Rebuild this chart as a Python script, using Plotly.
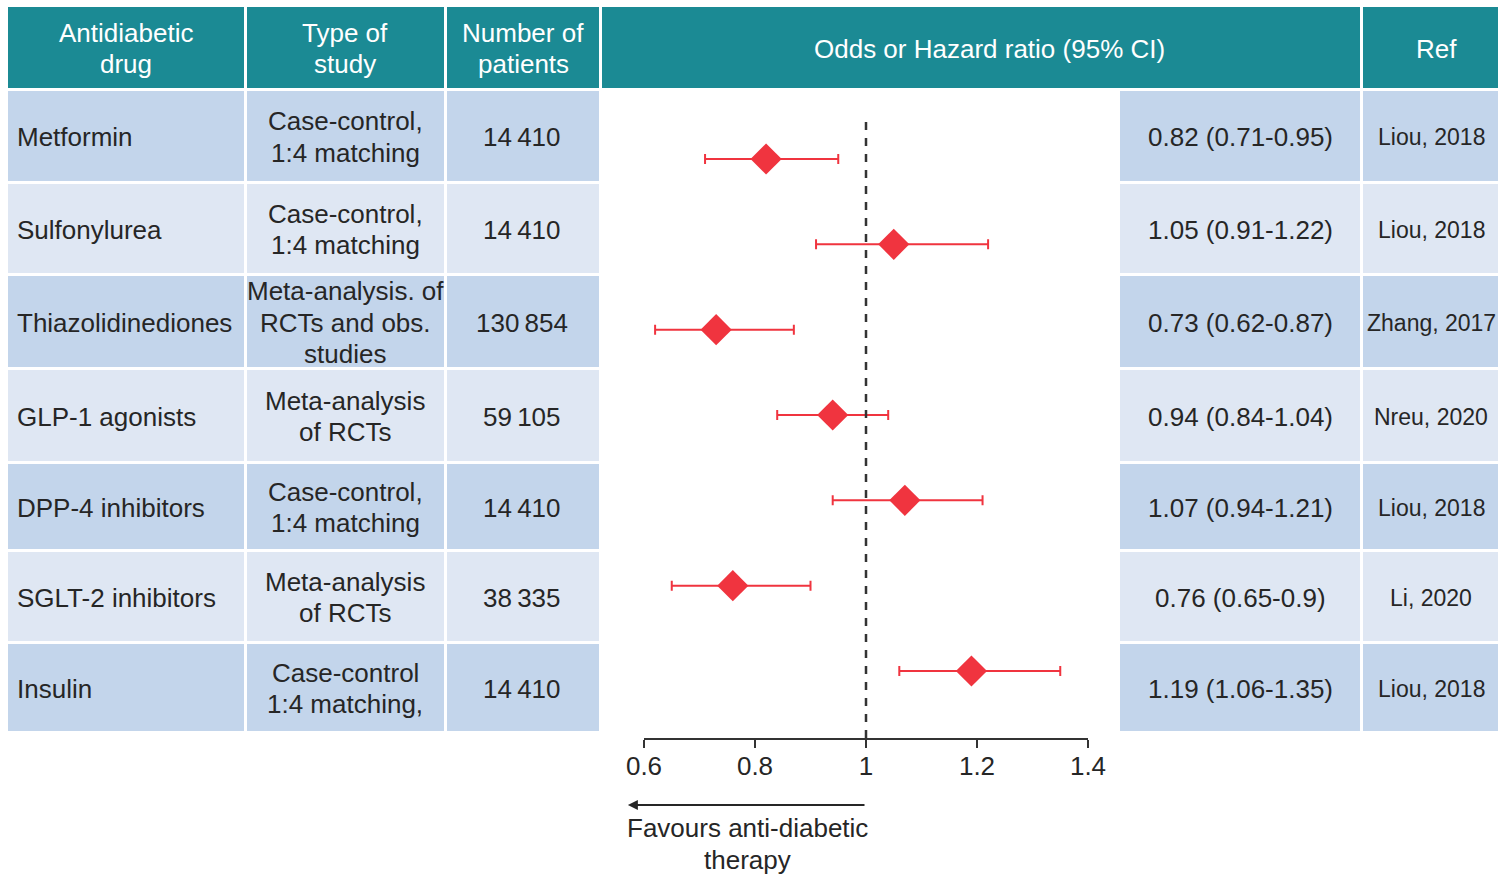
import plotly.graph_objects as go

# ---- data -----------------------------------------------------------------
drugs = ["Metformin", "Sulfonylurea", "Thiazolidinediones", "GLP-1 agonists",
         "DPP-4 inhibitors", "SGLT-2 inhibitors", "Insulin"]
study_types = ["Case-control,<br>1:4 matching", "Case-control,<br>1:4 matching",
               "Meta-analysis. of<br>RCTs and obs.<br>studies", "Meta-analysis<br>of RCTs",
               "Case-control,<br>1:4 matching", "Meta-analysis<br>of RCTs",
               "Case-control<br>1:4 matching,"]
n_patients = ["14\u2009410", "14\u2009410", "130\u2009854", "59\u2009105",
              "14\u2009410", "38\u2009335", "14\u2009410"]
ratio = [0.82, 1.05, 0.73, 0.94, 1.07, 0.76, 1.19]
ci_low = [0.71, 0.91, 0.62, 0.84, 0.94, 0.65, 1.06]
ci_high = [0.95, 1.22, 0.87, 1.04, 1.21, 0.90, 1.35]
refs = ["Liou, 2018", "Liou, 2018", "Zhang, 2017", "Nreu, 2020",
        "Liou, 2018", "Li, 2020", "Liou, 2018"]
x_ticks = [0.6, 0.8, 1.0, 1.2, 1.4]
headers = ["Antidiabetic<br>drug", "Type of<br>study", "Number of<br>patients",
           "Odds or Hazard ratio (95% CI)", "Ref"]

# ---- layout constants (pixels) ---------------------------------------------
W, H = 1498, 876
FONT = "Liberation Sans, Arial, Helvetica, sans-serif"
FS = 26
LINE = 31.5
TXT = "#262626"
TEAL = "#1b8a94"
ROW_DARK = "#c3d5eb"
ROW_LIGHT = "#dfe7f3"
RED = "#f0343f"

header_top, header_bot = 7, 88
row_edges = [(91, 181), (184, 273), (276, 367), (370, 461),
             (464, 549), (552, 641), (644, 731)]
left_cols = [(8, 244), (247, 444), (447, 599)]
mid_header = (602, 1360)
value_col = (1120, 1360)
ref_col = (1363, 1515)

plot_x0, plot_x1 = 644, 1088
plot_top, plot_bot = 122, 738
first_pt, pt_step = 159, 85.33


def px(x):
    return x / W


def py(y):
    return 1 - y / H


shapes = []
annotations = []


def cell(x0, x1, y0, y1, color):
    shapes.append(dict(type="rect", xref="paper", yref="paper", layer="below",
                       x0=px(x0), x1=px(x1), y0=py(y1), y1=py(y0),
                       fillcolor=color, line=dict(width=0)))


def label(x, y, text, color=TXT, anchor="center", size=FS):
    # each line is placed on its own so the leading stays tight
    lines = text.split("<br>")
    top = y - LINE * (len(lines) - 1) / 2
    for k, line in enumerate(lines):
        annotations.append(dict(xref="paper", yref="paper", x=px(x),
                                y=py(top + k * LINE), text=line, showarrow=False,
                                xanchor=anchor, yanchor="middle", align=anchor,
                                font=dict(family=FONT, size=size, color=color)))


# header cells
header_cols = left_cols + [mid_header, ref_col]
for (x0, x1), text in zip(header_cols, headers):
    cell(x0, x1, header_top, header_bot, TEAL)
hx = [126, 345, 523, 989, 1436]
for x, text in zip(hx, headers):
    label(x, (header_top + header_bot) / 2 + 1, text, color="white")

# body cells
for i, (y0, y1) in enumerate(row_edges):
    color = ROW_DARK if i % 2 == 0 else ROW_LIGHT
    for x0, x1 in left_cols + [value_col, ref_col]:
        cell(x0, x1, y0, y1, color)
    yc = (y0 + y1) / 2 + 1
    label(15, yc, drugs[i], anchor="left")
    label(345, yc, study_types[i])
    label(522, yc, n_patients[i])
    label(1240, yc, f"{ratio[i]:g} ({ci_low[i]:g}-{ci_high[i]:g})")
    label(1431, yc, refs[i], size=23)

# direction arrow and caption
annotations.append(dict(xref="x", yref="paper", x=0.571, y=py(805),
                        ax=1.0, ay=0, axref="x", ayref="pixel",
                        text="", showarrow=True, arrowhead=2, arrowsize=1,
                        arrowwidth=2, arrowcolor="#262626"))
label(747, 844, "Favours anti-diabetic<br>therapy")

# no-effect reference line
shapes.append(dict(type="line", xref="x", yref="y domain", x0=1, x1=1, y0=0, y1=1,
                   line=dict(color="#333333", width=2.5, dash="8px,8px")))

# ---- forest plot ------------------------------------------------------------
y_idx = list(range(len(drugs)))
fig = go.Figure(go.Scatter(
    x=ratio, y=y_idx, mode="markers",
    marker=dict(symbol="diamond", size=24, color=RED, line=dict(width=0)),
    error_x=dict(type="data", symmetric=False,
                 array=[h - r for h, r in zip(ci_high, ratio)],
                 arrayminus=[r - l for r, l in zip(ratio, ci_low)],
                 color=RED, thickness=2, width=5),
    hoverinfo="skip",
))

span = (plot_bot - plot_top) / pt_step
y_lo = -(first_pt - plot_top) / pt_step
fig.update_layout(
    width=W, height=H,
    margin=dict(l=0, r=0, t=0, b=0, pad=0, autoexpand=False),
    paper_bgcolor="white", plot_bgcolor="rgba(0,0,0,0)",
    showlegend=False, shapes=shapes, annotations=annotations,
    xaxis=dict(domain=[px(plot_x0), px(plot_x1)], range=[0.6, 1.4],
               tickvals=x_ticks, ticktext=[f"{t:g}" for t in x_ticks],
               showline=True, linecolor="#333333", linewidth=2,
               ticks="outside", ticklen=8, tickwidth=2, tickcolor="#333333",
               ticklabelstandoff=-4,
               showgrid=False, zeroline=False, automargin=False,
               tickfont=dict(family=FONT, size=FS, color=TXT)),
    yaxis=dict(domain=[py(plot_bot), py(plot_top)], range=[y_lo + span, y_lo],
               visible=False, showgrid=False, zeroline=False, automargin=False),
)

fig.write_html("out.html")
